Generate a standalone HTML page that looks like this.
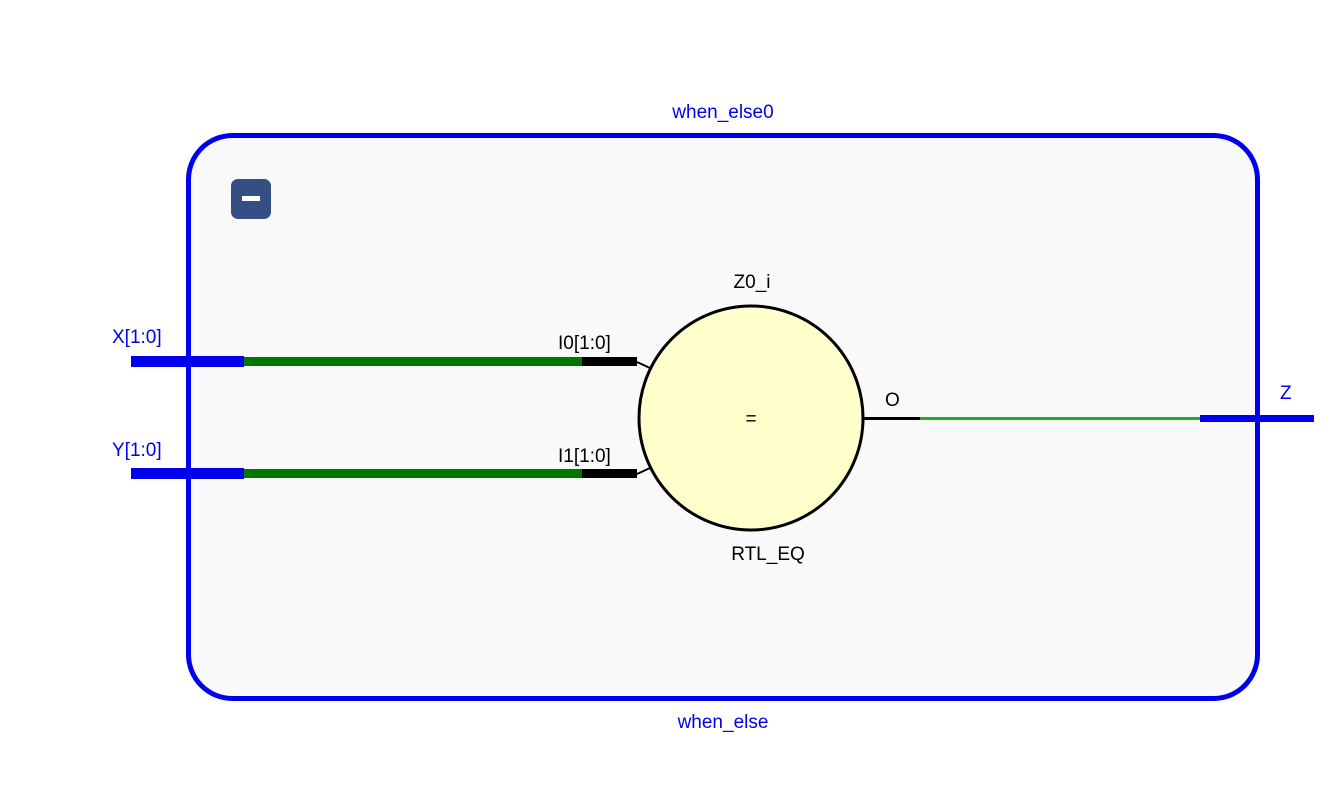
<!DOCTYPE html>
<html><head><meta charset="utf-8"><style>
body{margin:0;background:#fff;width:1330px;height:781px;overflow:hidden}
text{font-family:"Liberation Sans","DejaVu Sans",sans-serif;font-size:19px}
</style></head><body>
<svg width="1330" height="781" viewBox="0 0 1330 781">
<rect x="188.5" y="135.5" width="1069" height="563" rx="44" fill="#f9f9f9" stroke="#0000ee" stroke-width="5"/>
<text x="723" y="118" fill="#0000ee" text-anchor="middle">when_else0</text>
<text x="723" y="728" fill="#0000ee" text-anchor="middle">when_else</text>
<g>
<rect x="231" y="179" width="40" height="40" rx="7" fill="#334f84"/>
<rect x="242" y="196" width="18" height="5" fill="#fff"/>
</g>
<g>
<rect x="131" y="356" width="113" height="11" fill="#0000ee"/>
<text x="112" y="343" fill="#0000ee">X[1:0]</text>
</g>
<g>
<rect x="131" y="468" width="113" height="11" fill="#0000ee"/>
<text x="112" y="456" fill="#0000ee">Y[1:0]</text>
</g>
<rect x="244" y="357" width="338" height="9" fill="#007700"/>
<rect x="244" y="469" width="338" height="9" fill="#007700"/>
<rect x="582" y="357" width="55" height="9" fill="#000"/>
<rect x="582" y="469" width="55" height="9" fill="#000"/>
<line x1="637" y1="362" x2="650" y2="368" stroke="#000" stroke-width="2"/>
<line x1="637" y1="474" x2="650" y2="468" stroke="#000" stroke-width="2"/>
<text x="558" y="349" fill="#000">I0[1:0]</text>
<text x="558" y="462" fill="#000">I1[1:0]</text>
<circle cx="751" cy="418" r="112" fill="#ffffcc" stroke="#000" stroke-width="3"/>
<text x="751" y="425" fill="#000" text-anchor="middle">=</text>
<text x="752" y="288" fill="#000" text-anchor="middle">Z0_i</text>
<text x="768" y="560" fill="#000" text-anchor="middle">RTL_EQ</text>
<rect x="864" y="417" width="56" height="3" fill="#000"/>
<text x="885" y="406" fill="#000">O</text>
<rect x="920" y="417" width="281" height="3" fill="#22aa22"/>
<g>
<rect x="1200" y="415" width="114" height="7" fill="#0000ee"/>
<text x="1280" y="399" fill="#0000ee">Z</text>
</g>
</svg>
</body></html>
